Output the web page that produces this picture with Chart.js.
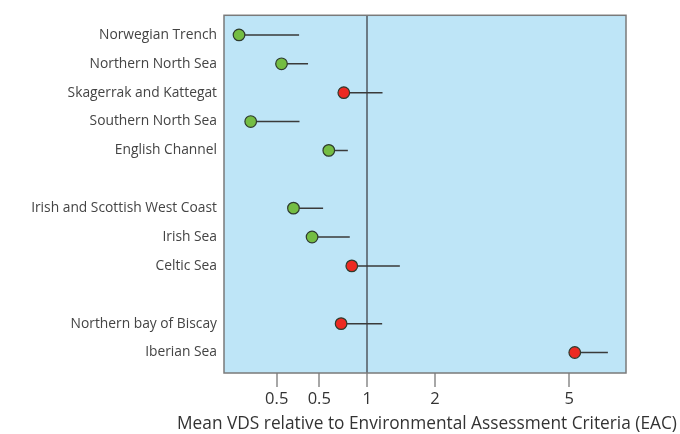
<!DOCTYPE html>
<html><head><meta charset="utf-8">
<script src="https://cdn.jsdelivr.net/npm/chart.js@4/dist/chart.umd.min.js"></script>
<style>html,body{margin:0;padding:0;background:#fff}#wrap{width:680px;height:434px}</style>
</head><body><div id="wrap"><canvas id="c"></canvas></div>
<script>
const categories = ['Norwegian Trench','Northern North Sea','Skagerrak and Kattegat','Southern North Sea','English Channel','',
  'Irish and Scottish West Coast','Irish Sea','Celtic Sea','','Northern bay of Biscay','Iberian Sea'];
const meanValues  = [0.047, 0.227, 0.735, 0.083, 0.586, null, 0.302, 0.440, 0.821, null, 0.707, 5.15];
const upperValues = [0.341, 0.408, 1.197, 0.344, 0.778, null, 0.534, 0.799, 1.440, null, 1.192, 6.11];
const tickValues = [0.2, 0.5, 1, 2, 5];
const tickLabels = ['0.5', '0.5', '1', '2', '5'];
const xTitle = 'Mean VDS relative to Environmental Assessment Criteria (EAC)';

class SqrtScale extends Chart.LinearScale {
  getPixelForValue(v) {
    const a = Math.sqrt(this.min), b = Math.sqrt(this.max);
    return this.getPixelForDecimal((Math.sqrt(Math.max(v, 0)) - a) / (b - a));
  }
  getValueForPixel(p) {
    const a = Math.sqrt(this.min), b = Math.sqrt(this.max);
    const s = a + this.getDecimalForPixel(p) * (b - a);
    return s * s;
  }
}
SqrtScale.id = 'sqrt';
SqrtScale.defaults = {};
Chart.register(SqrtScale);

const dots = [], whisk = [], colors = [];
categories.forEach((c, i) => {
  if (meanValues[i] == null) return;
  dots.push({x: meanValues[i], y: i});
  colors.push(upperValues[i] > 1 ? '#ec2a22' : '#74bd43');
  whisk.push({x: meanValues[i], y: i}, {x: upperValues[i], y: i}, {x: null, y: null});
});

const bgPlugin = {
  id: 'bg',
  beforeDraw(chart) {
    const {ctx, chartArea: a} = chart;
    ctx.save(); ctx.fillStyle = '#bee5f7';
    ctx.fillRect(a.left, a.top, a.right - a.left, a.bottom - a.top); ctx.restore();
  },
  afterDraw(chart) {
    const {ctx, chartArea: a} = chart;
    ctx.save(); ctx.strokeStyle = '#7a7a7a'; ctx.lineWidth = 1.5;
    ctx.strokeRect(a.left, a.top, a.right - a.left, a.bottom - a.top);
    ctx.fillStyle = '#333'; ctx.font = '17.3px "Open Sans"';
    ctx.textAlign = 'center'; ctx.textBaseline = 'middle';
    ctx.fillText(xTitle, 427, chart.height - 10, 506);
    ctx.restore();
  }
};

new Chart(document.getElementById('c'), {
  type: 'scatter',
  data: { datasets: [
    { data: whisk, order: 2, showLine: true, spanGaps: false, borderColor: '#3a3a3a', borderWidth: 1.5, pointRadius: 0, pointHoverRadius: 0 },
    { data: dots, order: 1, pointRadius: 5.8, pointHoverRadius: 5.8, pointBackgroundColor: colors, pointBorderColor: '#2e3b2e', pointBorderWidth: 1.2 }
  ]},
  options: {
    responsive: true, maintainAspectRatio: false, animation: false,
    layout: { padding: { top: 12, right: 54, left: 0, bottom: 0 } },
    plugins: { legend: { display: false }, tooltip: { enabled: false } },
    scales: {
      x: {
        type: 'sqrt', min: 0.0156, max: 6.67,
        afterBuildTicks: s => { s.ticks = tickValues.map(v => ({value: v})); },
        afterFit: s => { s.height = 61; },
        ticks: { callback: (v, i) => tickLabels[i], color: '#333', font: { family: 'Open Sans', size: 16.5 }, padding: 2, maxRotation: 0, autoSkip: false },
        grid: {
          drawOnChartArea: true,
          color: c => (c.tick && c.tick.value === 1) ? '#6b7b86' : 'rgba(0,0,0,0)',
          lineWidth: c => (c.tick && c.tick.value === 1) ? 2 : 0,
          drawTicks: true, tickLength: 14, tickColor: '#8a8a8a', tickWidth: 1.5
        },
        border: { display: false },
        title: { display: false }
      },
      y: {
        type: 'linear', reverse: true, min: -0.68, max: 11.71,
        afterBuildTicks: s => { s.ticks = categories.map((c, i) => ({value: i})); },
        afterFit: s => { s.width = 224; },
        ticks: { callback: (v, i) => categories[i], color: '#444', font: { family: 'Open Sans', size: 13.8 }, padding: 7, autoSkip: false },
        grid: { display: false, drawTicks: false },
        border: { display: false }
      }
    }
  },
  plugins: [bgPlugin]
});
</script>
</body></html>
